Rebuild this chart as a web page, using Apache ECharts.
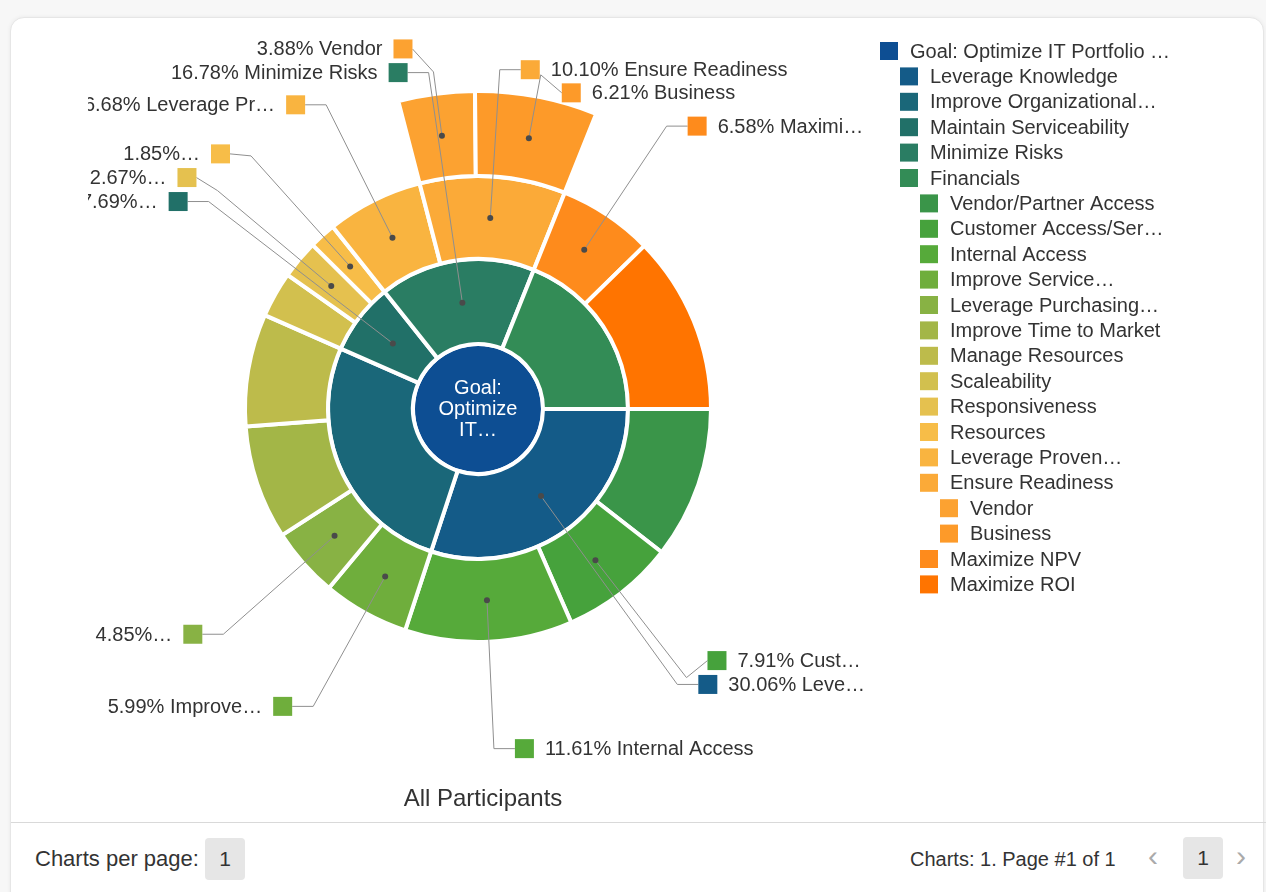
<!DOCTYPE html>
<html>
<head>
<meta charset="utf-8">
<title>All Participants</title>
<script src="https://cdn.jsdelivr.net/npm/echarts/dist/echarts.min.js"></script>
<style>
  body { margin: 0; background: #f7f7f7; font-family: "Liberation Sans", Arial, sans-serif; color: #333; }
  #card { position: absolute; left: 10px; top: 17px; width: 1252px; height: 900px; background: #fff;
          border: 1px solid #e6e6e6; border-radius: 14px; box-shadow: 0 0 4px rgba(0,0,0,0.06); }
  #main { position: absolute; left: 88px; top: 18px; width: 1178px; height: 805px; }
  #divider { position: absolute; left: 11px; top: 822px; width: 1255px; height: 1px; background: #d9d9d9; }
  .txt { position: absolute; font-size: 20px; line-height: 24px; }
  .box { position: absolute; width: 40px; height: 42px; line-height: 42px; text-align: center; background: #e6e6e6;
         border-radius: 4px; font-size: 21px; }
  .chev { position: absolute; font-size: 30px; color: #aaa; line-height: 40px; }
</style>
</head>
<body>
<div id="card"></div>
<div id="main"></div>
<div id="divider"></div>
<div class="txt" style="left:35px; top:847px; font-size:22px;">Charts per page:</div>
<div class="box" style="left:205px; top:838px;">1</div>
<div class="txt" style="left:910px; top:847px;">Charts: 1. Page #1 of 1</div>
<div class="chev" style="left:1148px; top:836px;">&#x2039;</div>
<div class="box" style="left:1183px; top:837px;">1</div>
<div class="chev" style="left:1236px; top:836px;">&#x203A;</div>

<script type="text/javascript">
// ---- data ----
var chartTitle = 'All Participants';
var rootName = 'Goal: Optimize IT Portfolio …';
var rootColor = '#0d4e93';

var level1Names = ['Leverage Knowledge', 'Improve Organizational…', 'Maintain Serviceability', 'Minimize Risks', 'Financials'];
var level1Values = [30.06, 26.54, 7.69, 16.78, 18.93];
var level1Colors = ['#145b88', '#1a6779', '#217068', '#2a7d63', '#338c56'];

var level2Names = ['Vendor/Partner Access', 'Customer Access/Ser…', 'Internal Access', 'Improve Service…',
                   'Leverage Purchasing…', 'Improve Time to Market', 'Manage Resources', 'Scaleability',
                   'Responsiveness', 'Resources', 'Leverage Proven…', 'Ensure Readiness', 'Maximize NPV', 'Maximize ROI'];
var level2Parents = [0, 0, 0, 1, 1, 1, 1, 2, 2, 2, 3, 3, 4, 4];
var level2Values = [10.54, 7.91, 11.61, 5.99, 4.85, 7.90, 7.80, 3.17, 2.67, 1.85, 6.68, 10.10, 6.58, 12.35];
var level2Colors = ['#3a9549', '#46a23c', '#56aa3a', '#6fae3c', '#88b244', '#a3b647', '#bdbb4b', '#d2c04e',
                    '#e5c14f', '#f7bd48', '#f9b440', '#fbaa38', '#fe8b1c', '#ff7400'];

var level3Names = ['Vendor', 'Business'];
var level3Parents = [11, 11];
var level3Values = [3.88, 6.21];
var level3Colors = ['#fca231', '#fd9a29'];

// segments that get an outside label, and the text shown after the percentage
var calloutNames = ['Minimize Risks', 'Maintain Serviceability', 'Leverage Knowledge',
                    'Customer Access/Ser…', 'Internal Access', 'Improve Service…', 'Leverage Purchasing…',
                    'Responsiveness', 'Resources', 'Leverage Proven…', 'Ensure Readiness', 'Maximize NPV',
                    'Vendor', 'Business'];
var calloutSuffix = [' Minimize Risks', '…', ' Leve…',
                     ' Cust…', ' Internal Access', ' Improve…', '…',
                     '…', '…', ' Leverage Pr…', ' Ensure Readiness', ' Maximi…',
                     ' Vendor', ' Business'];

// ---- layout ----
var FONT = '"Liberation Sans", Arial, sans-serif';
var cx = 390, cy = 391;
var ringR = [[0, 65], [65, 150], [150, 233], [233, 318]];

function node(name, value, color, children) {
    var n = { name: name, value: value, itemStyle: { color: color } };
    if (children && children.length) n.children = children;
    return n;
}
var l3 = level3Names.map(function (n, i) { return node(n, level3Values[i], level3Colors[i]); });
var l2 = level2Names.map(function (n, i) {
    return node(n, level2Values[i], level2Colors[i], l3.filter(function (_, j) { return level3Parents[j] === i; }));
});
var l1 = level1Names.map(function (n, i) {
    return node(n, level1Values[i], level1Colors[i], l2.filter(function (_, j) { return level2Parents[j] === i; }));
});
var total = level1Values.reduce(function (a, b) { return a + b; }, 0);
var root = node(rootName, total, rootColor, l1);

// angles (screen, clockwise from 3 o'clock) for every node
var info = {};
function walk(n, start, level) {
    var end = start + n.value / total * Math.PI * 2;
    info[n.name] = { start: start, end: end, level: level, value: n.value, color: n.itemStyle.color };
    var s = start;
    (n.children || []).forEach(function (c) { walk(c, s, level + 1); s = info[c.name].end; });
}
walk(root, 0, 0);

// outside labels with leader lines
var LABEL_R = 340, GAP = 21, SQ = 19, ROW = 23;
var callouts = calloutNames.map(function (name, i) {
    var d = info[name];
    var mid = (d.start + d.end) / 2;
    var rm = (ringR[d.level][0] + ringR[d.level][1]) / 2;
    return {
        name: name, level: d.level, mid: mid, color: d.color,
        text: d.value.toFixed(2) + '%' + calloutSuffix[i],
        dx: cx + rm * Math.cos(mid), dy: cy + rm * Math.sin(mid),
        ex: cx + LABEL_R * Math.cos(mid), ey: cy + LABEL_R * Math.sin(mid),
        side: Math.cos(mid) >= 0 ? 1 : -1
    };
});
var placed = [];
callouts.slice().sort(function (a, b) { return a.level - b.level || a.mid - b.mid; }).forEach(function (c) {
    var others = placed.filter(function (p) { return p.side === c.side; });
    var free = function (y) { return others.every(function (p) { return Math.abs(p.y - y) >= ROW; }); };
    var y = c.ey;
    if (!free(y)) {
        for (var k = 1; k < 300; k++) {
            if (free(c.ey - k)) { y = c.ey - k; break; }
            if (free(c.ey + k)) { y = c.ey + k; break; }
        }
    }
    c.y = y;
    placed.push(c);
});

var graphics = [];
callouts.forEach(function (c) {
    var sx = c.ex + c.side * GAP;
    graphics.push({ type: 'polyline', z: 100, shape: { points: [[c.dx, c.dy], [c.ex, c.ey], [sx, c.y]] },
                    style: { stroke: '#8f8f8f', lineWidth: 1, fill: null }, silent: true });
    graphics.push({ type: 'circle', z: 101, shape: { cx: c.dx, cy: c.dy, r: 3 }, style: { fill: '#4a4a4a' }, silent: true });
    var rx = c.side > 0 ? sx : sx - SQ;
    graphics.push({ type: 'rect', z: 100, shape: { x: rx, y: c.y - SQ / 2, width: SQ, height: SQ },
                    style: { fill: c.color }, silent: true });
    var tx = c.side > 0 ? sx + SQ + 11 : sx - SQ - 11;
    graphics.push({ type: 'text', z: 100, x: tx, y: c.y + 1, silent: true,
                    style: { text: c.text, fill: '#333', font: '20px ' + FONT,
                             textAlign: c.side > 0 ? 'left' : 'right', textVerticalAlign: 'middle',
                             align: c.side > 0 ? 'left' : 'right', verticalAlign: 'middle' } });
});

// centre node name, wrapped to three lines
var rootWords = rootName.split(' ');
graphics.push({ type: 'text', z: 100, x: cx, y: cy, silent: true,
                style: { text: rootWords[0] + '\n' + rootWords[1] + '\n' + rootWords[2] + '…',
                         fill: '#fff', font: '20px ' + FONT, lineHeight: 21,
                         textAlign: 'center', textVerticalAlign: 'middle', align: 'center', verticalAlign: 'middle' } });

// legend: root, level 1, then level 2 with their own children after them
var legendRows = [{ name: rootName, level: 0 }];
level1Names.forEach(function (n) { legendRows.push({ name: n, level: 1 }); });
level2Names.forEach(function (n, i) {
    legendRows.push({ name: n, level: 2 });
    level3Names.forEach(function (m, j) { if (level3Parents[j] === i) legendRows.push({ name: m, level: 3 }); });
});
legendRows.forEach(function (r, i) {
    var x = 792 + r.level * 20, y = 33 + i * 25.4;
    graphics.push({ type: 'rect', z: 100, shape: { x: x, y: y - 9, width: 18, height: 18 },
                    style: { fill: info[r.name].color }, silent: true });
    graphics.push({ type: 'text', z: 100, x: x + 30, y: y + 1, silent: true,
                    style: { text: r.name, fill: '#333', font: '20px ' + FONT,
                             textVerticalAlign: 'middle', verticalAlign: 'middle' } });
});

var myChart = echarts.init(document.getElementById('main'));
myChart.setOption({
    animation: false,
    title: {
        text: chartTitle, left: cx, top: 764, textAlign: 'center',
        textStyle: { fontSize: 24, fontWeight: 'normal', color: '#333', fontFamily: FONT }
    },
    series: [{
        type: 'sunburst',
        z: 2,
        center: [cx, cy],
        startAngle: 0,
        clockwise: true,
        sort: null,
        nodeClick: false,
        emphasis: { focus: 'none' },
        data: [root],
        itemStyle: { borderColor: '#fff', borderWidth: 4 },
        label: { show: false },
        levels: [
            {},
            { r0: ringR[0][0], r: ringR[0][1] },
            { r0: ringR[1][0], r: ringR[1][1] },
            { r0: ringR[2][0], r: ringR[2][1] },
            { r0: ringR[3][0], r: ringR[3][1] }
        ]
    }],
    graphic: { elements: graphics }
});
</script>
</body>
</html>
